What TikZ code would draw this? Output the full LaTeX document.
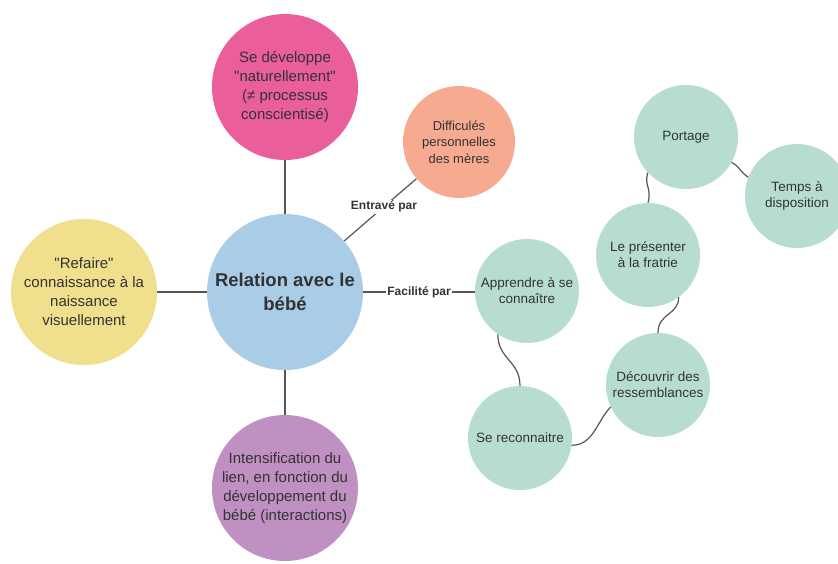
\documentclass[tikz,border=0pt]{standalone}
\usepackage{fontspec}
\setmainfont{Liberation Sans}[Ligatures=TeXOff]
\definecolor{cblue}{HTML}{A9CDE7}
\definecolor{cpink}{HTML}{EA5E9C}
\definecolor{cyellow}{HTML}{F0E08E}
\definecolor{cpurple}{HTML}{BF90C1}
\definecolor{csalmon}{HTML}{F6AA90}
\definecolor{cgreen}{HTML}{B6DDCF}
\definecolor{ctext}{HTML}{333333}
\definecolor{cline}{HTML}{555555}
\begin{document}
\begin{tikzpicture}[x=1pt,y=-1pt,
  bubble/.style={circle, inner sep=0pt, align=center, text=ctext, font=\fontsize{15}{19}\selectfont},
  bigb/.style={bubble, minimum size=146pt},
  smallb/.style={bubble, fill=cgreen, minimum size=104pt, font=\fontsize{13.5}{16}\selectfont},
  link/.style={draw=cline, line width=1.2pt},
  wavy/.style={draw=cline, line width=1.2pt},
  lab/.style={fill=white, inner sep=1.5pt, text=ctext, font=\bfseries\fontsize{12}{13}\selectfont}]
\useasboundingbox (0,0) rectangle (838,563);

\node[bubble, fill=cblue, minimum size=156pt, font=\bfseries\fontsize{18.5}{24}\selectfont] (rel) at (285,292) {Relation avec le\\bébé};
\node[bigb, fill=cpink] (dev) at (285,87) {Se développe\\"naturellement"\\(≠ processus\\conscientisé)};
\node[bigb, fill=cyellow] (ref) at (84,292) {"Refaire"\\connaissance à la\\naissance\\visuellement};
\node[bigb, fill=cpurple] (inte) at (285,488) {Intensification du\\lien, en fonction du\\développement du\\bébé (interactions)};
\node[bubble, fill=csalmon, minimum size=112pt, font=\fontsize{13}{16.5}\selectfont] (dif) at (459,142) {Difficulés\\personnelles\\des mères};

\node[smallb] (app) at (527,291) {Apprendre à se\\connaître};
\node[smallb] (rec) at (520,438) {Se reconnaitre};
\node[smallb] (dec) at (658,385) {Découvrir des\\ressemblances};
\node[smallb] (pre) at (648,255) {Le présenter\\à la fratrie};
\node[smallb] (por) at (686,137) {Portage};
\node[smallb] (tem) at (797,196) {Temps à\\disposition};

\draw[link] (dev) -- (rel);
\draw[link] (ref) -- (rel);
\draw[link] (rel) -- (inte);
\draw[link] (rel) -- node[lab, pos=0.55] {Entravé par} (dif);
\draw[link] (rel.east) -- node[lab] {Facilité par} (app.west |- rel.east);

\draw[wavy] (app.236) .. controls +(0,25) and +(0,-25) .. (rec.north);
\draw[wavy] (rec.352) .. controls +(22,0) and +(-14,14) .. (dec.205);
\draw[wavy] (dec.north) .. controls +(0,-20) and +(0,18) .. (pre.306);
\draw[wavy] (pre.north) .. controls +(4,-16) and +(-4,14) .. (por.223);
\draw[wavy] (por.331) .. controls +(9,5) and +(-9,-6) .. (tem.159);
\end{tikzpicture}
\end{document}
